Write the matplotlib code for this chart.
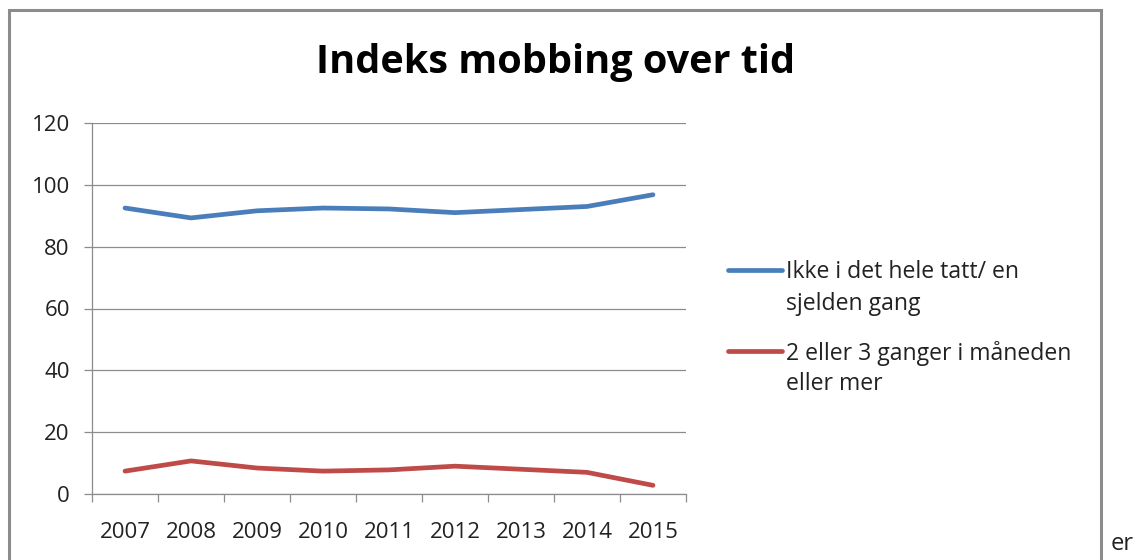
import matplotlib
matplotlib.use("Agg")
import matplotlib.pyplot as plt
from matplotlib.patches import Rectangle
from matplotlib.lines import Line2D

years = ["2007", "2008", "2009", "2010", "2011", "2012", "2013", "2014", "2015"]
ikke = [92.5, 89.3, 91.6, 92.5, 92.2, 91.0, 92.0, 93.0, 96.8]
mobbet = [7.4, 10.7, 8.4, 7.4, 7.8, 9.0, 8.0, 7.0, 2.8]
series_labels = [["Ikke i det hele tatt/ en", "sjelden gang"],
                 ["2 eller 3 ganger i måneden", "eller mer"]]
colors = ["#4a7ebb", "#be4b48"]
title = "Indeks mobbing over tid"
yticks = [0, 20, 40, 60, 80, 100, 120]

W, H = 1138, 560
fig = plt.figure(figsize=(W / 100, H / 100), dpi=100)
font = "Open Sans"

# outer chart border
fig.patches.append(Rectangle((9 / W, -0.05), (1101 - 9) / W, 1.05 - 10 / H,
                             transform=fig.transFigure, fill=False,
                             edgecolor="#8c8c8c", linewidth=2.2))

ax = fig.add_axes([92 / W, 1 - 494 / H, (686 - 92) / W, (494 - 123) / H])
x = list(range(len(years)))
ax.plot(x, ikke, color=colors[0], linewidth=3.4, solid_capstyle="round")
ax.plot(x, mobbet, color=colors[1], linewidth=3.4, solid_capstyle="round")

ax.set_xlim(-0.5, len(years) - 0.5)
ax.set_ylim(0, 120)
ax.set_yticks(yticks)
ax.set_yticklabels([str(v) for v in yticks], fontfamily=font, fontsize=16,
                   color="#222222")
ax.set_xticks(x)
ax.set_xticklabels(years, fontfamily=font, fontsize=16, color="#222222")
ax.tick_params(axis="x", length=0, pad=20)
ax.set_xticks([i - 0.5 for i in range(len(years) + 1)], minor=True)
ax.tick_params(axis="x", which="minor", length=6, color="#8c8c8c", width=0.9)
ax.tick_params(axis="y", length=6, color="#8c8c8c", width=0.9, pad=10)
ax.grid(axis="y", color="#8c8c8c", linewidth=0.9)
ax.set_axisbelow(True)
for s in ["top", "right"]:
    ax.spines[s].set_visible(False)
for s in ["left", "bottom"]:
    ax.spines[s].set_color("#8c8c8c")
    ax.spines[s].set_linewidth(0.9)

fig.text(556 / W, 1 - 62 / H, title, fontfamily=font, fontweight="bold",
         fontsize=28.5, ha="center", va="center", color="black")

# legend (handle aligned with the first text line, as in the original)
leg_rows = [(270, [272, 304]), (351, [353, 384])]
for (hy, text_ys), lines, c in zip(leg_rows, series_labels, colors):
    fig.add_artist(Line2D([728 / W, 782 / W], [1 - hy / H, 1 - hy / H],
                          transform=fig.transFigure, color=c, linewidth=3.4,
                          solid_capstyle="round"))
    for ty, txt in zip(text_ys, lines):
        fig.text(786 / W, 1 - ty / H, txt, fontfamily=font, fontsize=16.6,
                 ha="left", va="center", color="#222222")

fig.text(1111 / W, 1 - 544 / H, "er", fontfamily=font, fontsize=17,
         ha="left", va="center", color="#222222")

fig.savefig("out.png", dpi=100)
